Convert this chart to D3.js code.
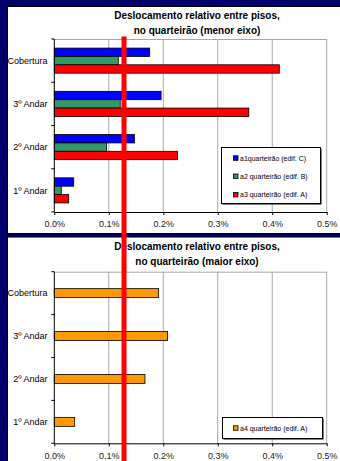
<!DOCTYPE html>
<html>
<head>
<meta charset="utf-8">
<script src="https://cdn.jsdelivr.net/npm/d3@7"></script>
<style>
  html, body { margin: 0; padding: 0; background: #00006b; }
  svg { display: block; }
  text { font-family: "Liberation Sans", Arial, sans-serif; }
</style>
</head>
<body>
<svg id="chart" width="340" height="461"></svg>
<script>
// Floors, top to bottom
const floors = ["Cobertura", "3º Andar", "2º Andar", "1º Andar"];

// Relative inter-storey drift, minor axis (fractions; 0.001 = 0.1%)
const a1Minor = [0.00175, 0.00196, 0.00147, 0.000356];
const a2Minor = [0.001175, 0.00121, 0.00096, 0.000128];
const a3Minor = [0.00413, 0.00357, 0.00226, 0.000264];

// Relative inter-storey drift, major axis
const a4Major = [0.001915, 0.00208, 0.001664, 0.000374];

// Limit marked across both charts
const driftLimit = 0.00128;

const xTicks = [0, 0.001, 0.002, 0.003, 0.004, 0.005];

const minorSeries = [
  { key: "a1", label: "a1quarteirão (edif. C)", color: "#0000ff", values: a1Minor },
  { key: "a2", label: "a2 quarteirão (edif. B)", color: "#339966", values: a2Minor },
  { key: "a3", label: "a3 quarteirão (edif. A)", color: "#ff0000", values: a3Minor }
];
const majorSeries = [
  { key: "a4", label: "a4 quarteirão (edif. A)", color: "#ff9900", values: a4Major }
];

const svg = d3.select("#chart");
const fmt = d3.format(".1%");

const x = d3.scaleLinear().domain([0, 0.005]).range([54.3, 326.7]);

// White panels with a dark edge
function panel(y0, y1) {
  svg.append("rect")
    .attr("x", 7.5).attr("y", y0 + 0.5)
    .attr("width", 340).attr("height", y1 - y0)
    .attr("fill", "#fff").attr("stroke", "#000").attr("stroke-width", 1);
}
panel(6, 233);
panel(236.5, 470);

function drawChart(opts) {
  const g = svg.append("g");
  const { top, bottom, series, titleLines, titleY, padIn, legend } = opts;

  const y = d3.scaleBand().domain(floors).range([top, bottom])
    .paddingInner(padIn).paddingOuter(padIn / 2);
  const sub = d3.scaleBand().domain(series.map(s => s.key))
    .range([0, y.bandwidth()]);

  // Titles
  titleLines.forEach((t, i) => {
    g.append("text")
      .attr("x", 197).attr("y", titleY + i * 14.5)
      .attr("text-anchor", "middle")
      .attr("font-size", 10).attr("font-weight", "bold")
      .attr("fill", "#000")
      .text(t);
  });

  // Gridlines
  g.append("g").selectAll("line")
    .data(xTicks.slice(1))
    .join("line")
    .attr("x1", d => x(d)).attr("x2", d => x(d))
    .attr("y1", top).attr("y2", bottom)
    .attr("stroke", "#a8a8a8").attr("stroke-width", 1);
  g.append("line")
    .attr("x1", x(0)).attr("x2", x(0.005))
    .attr("y1", top + 0.5).attr("y2", top + 0.5)
    .attr("stroke", "#a8a8a8");

  // Bars
  series.forEach(s => {
    g.append("g").selectAll("rect")
      .data(floors.map((f, i) => ({ f, v: s.values[i] })))
      .join("rect")
      .attr("x", x(0))
      .attr("y", d => y(d.f) + sub(s.key))
      .attr("width", d => x(d.v) - x(0))
      .attr("height", sub.bandwidth())
      .attr("fill", s.color)
      .attr("stroke", "#000").attr("stroke-width", 0.8);
  });

  // X axis
  const xa = g.append("g")
    .attr("transform", `translate(0,${bottom})`)
    .call(d3.axisBottom(x).tickValues(xTicks).tickFormat(fmt)
      .tickSize(3).tickSizeOuter(0).tickPadding(6));
  xa.select(".domain").attr("stroke", "#000");
  xa.selectAll("text").attr("font-size", 9).attr("fill", "#222")
    .style("font-family", "'Liberation Sans', Arial, sans-serif");

  // Y axis line with ticks between floors
  g.append("line")
    .attr("x1", x(0)).attr("x2", x(0))
    .attr("y1", top).attr("y2", bottom)
    .attr("stroke", "#000");
  d3.range(floors.length + 1).forEach(i => {
    const yy = top + i * (bottom - top) / floors.length;
    g.append("line")
      .attr("x1", x(0) - 3).attr("x2", x(0))
      .attr("y1", yy).attr("y2", yy)
      .attr("stroke", "#000");
  });
  g.append("g").selectAll("text")
    .data(floors)
    .join("text")
    .attr("x", 47.5)
    .attr("y", d => y(d) + y.bandwidth() / 2)
    .attr("dy", "0.35em")
    .attr("text-anchor", "end")
    .attr("font-size", 9).attr("fill", "#000")
    .text(d => d);

  // Legend
  const lg = g.append("g");
  lg.append("rect")
    .attr("x", legend.x + 1.5).attr("y", legend.y + 1.5)
    .attr("width", legend.w).attr("height", legend.h)
    .attr("fill", "#000");
  lg.append("rect")
    .attr("x", legend.x + 0.5).attr("y", legend.y + 0.5)
    .attr("width", legend.w).attr("height", legend.h)
    .attr("fill", "#fff").attr("stroke", "#000");
  series.forEach((s, i) => {
    const cy = legend.rowY[i];
    lg.append("rect")
      .attr("x", 233.5).attr("y", cy - 2.5)
      .attr("width", 4.5).attr("height", 4.5)
      .attr("fill", s.color).attr("stroke", "#000").attr("stroke-width", 0.8);
    lg.append("text")
      .attr("x", 240).attr("y", cy)
      .attr("dy", "0.35em")
      .attr("font-size", 7).attr("fill", "#000")
      .text(s.label);
  });
}

drawChart({
  top: 39, bottom: 212,
  series: minorSeries,
  titleLines: ["Deslocamento relativo entre pisos,", "no quarteirão (menor eixo)"],
  titleY: 19,
  padIn: 0.42,
  legend: { x: 221, y: 147, w: 99, h: 56, rowY: [158.3, 176.5, 195] }
});

drawChart({
  top: 271.7, bottom: 443.3,
  series: majorSeries,
  titleLines: ["Deslocamento relativo entre pisos,", "no quarteirão (maior eixo)"],
  titleY: 250,
  padIn: 0.79,
  legend: { x: 222, y: 417, w: 100, h: 21, rowY: [428.3] }
});

// Limit line drawn over both charts
svg.append("rect")
  .attr("x", x(driftLimit) - 2.5).attr("y", 36.5)
  .attr("width", 5).attr("height", 461 - 36.5)
  .attr("fill", "#ff0000");
</script>
</body>
</html>
